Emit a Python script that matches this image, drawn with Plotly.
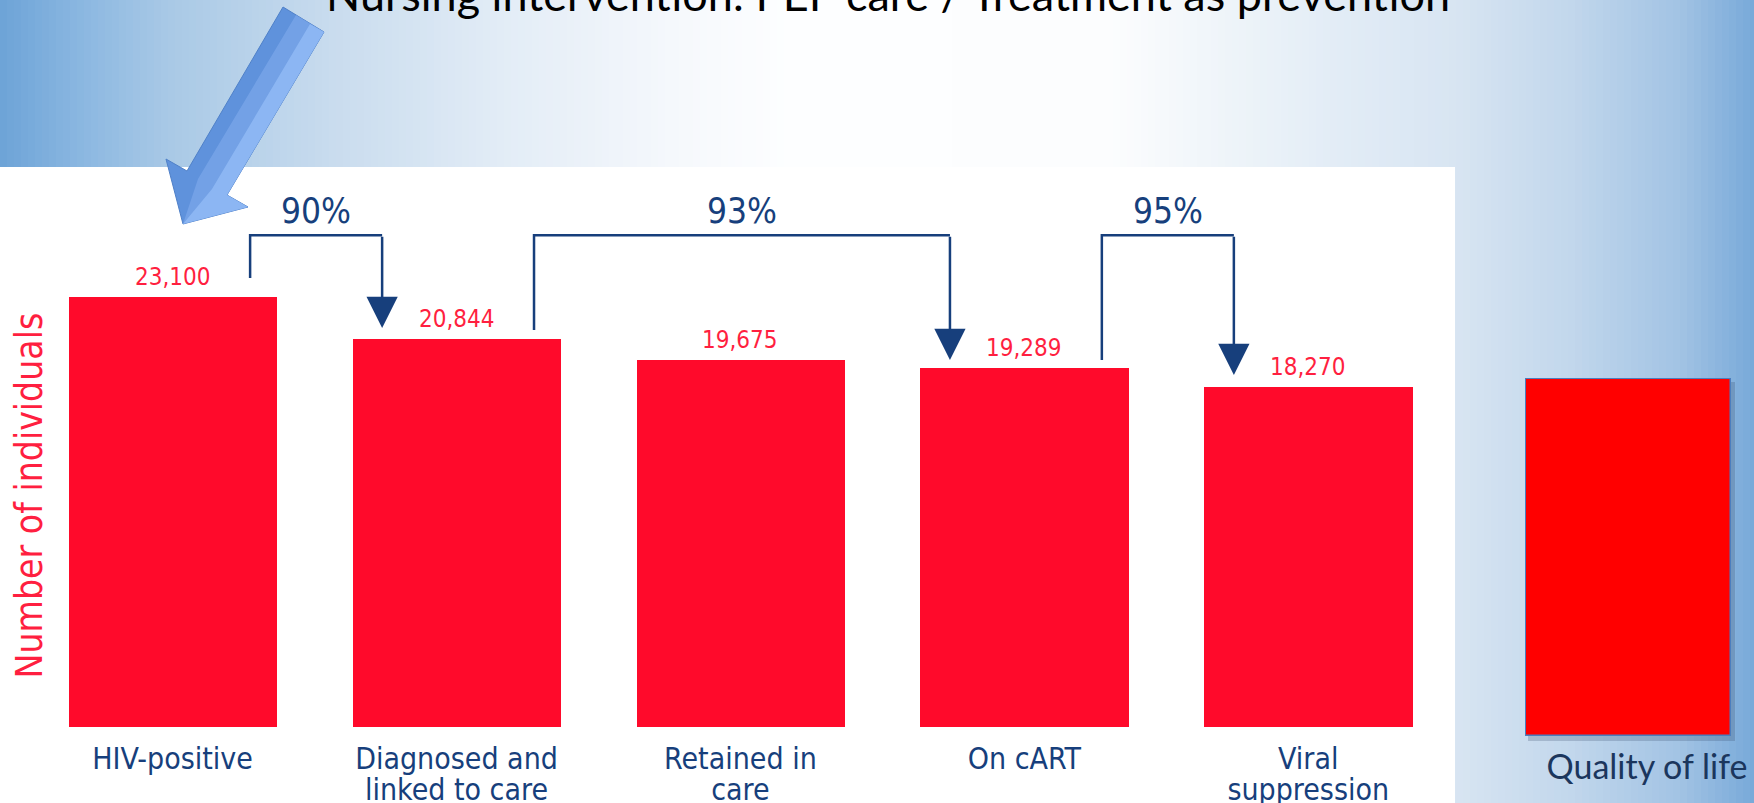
import plotly.graph_objects as go

W, H = 1754, 803

# ---------------- data ----------------
categories = ["HIV-positive", "Diagnosed and<br>linked to care", "Retained in<br>care",
              "On cART", "Viral<br>suppression"]
values = [23100, 20844, 19675, 19289, 18270]
bracket_from = [0, 1, 3]          # cascade step arrows: from bar index ...
bracket_to = [1, 3, 4]            # ... to bar index
qol_category = ["Quality of life"]
qol_value = [1]
title_text = "Nursing intervention: PEP care / Treatment as prevention"
y_title = "Number of individuals"

# ---------------- styles ----------------
RED = "#ff0a2b"
RED_TXT = "#ff1f40"
NAVY = "#173f7c"
COND = "DejaVu Sans Condensed, Liberation Sans Narrow, DejaVu Sans, sans-serif"
CAL = "Lato, Open Sans, sans-serif"

bracket_level = 26400
start_gap = [1000, 470, 410]
tip_gap = [580, 410, 620]
dx_left, dx_right = 0.273, -0.262


def px(x):
    return x / W


def py(y):
    return 1 - y / H


def hex2rgb(h):
    h = h.lstrip('#')
    return tuple(int(h[i:i + 2], 16) for i in (0, 2, 4))


grad = [(0, '#6da3d7'), (85, '#8cb8e1'), (170, '#a9c9e6'), (335, '#c9dcee'),
        (500, '#e2ecf6'), (670, '#f5f8fc'), (790, '#fdfeff'), (1110, '#fcfdfe'),
        (1230, '#eef4f9'), (1340, '#e2ecf6'), (1455, '#d8e5f2'), (1570, '#c2d7ec'),
        (1680, '#a2c3e4'), (1754, '#78a9d9')]


def color_at(x):
    for (xa, ca), (xb, cb) in zip(grad[:-1], grad[1:]):
        if xa <= x <= xb:
            t = (x - xa) / (xb - xa)
            a, b = hex2rgb(ca), hex2rgb(cb)
            return 'rgb(%d,%d,%d)' % tuple(round(a[i] + (b[i] - a[i]) * t) for i in range(3))
    return grad[-1][1]


def poly(pts):
    return 'M ' + ' L '.join('%.5f,%.5f' % (px(a), py(b)) for a, b in pts) + ' Z'


shapes = []
step = 7
for x0 in range(0, W, step):
    x1 = min(W, x0 + step)
    shapes.append(dict(type='rect', xref='paper', yref='paper', x0=px(x0), x1=min(1, px(x1) + 0.0006),
                       y0=0, y1=1, fillcolor=color_at((x0 + x1) / 2), line_width=0,
                       layer='below'))
# white chart panel
shapes.append(dict(type='rect', xref='paper', yref='paper', x0=0, x1=px(1455),
                   y0=0, y1=py(167), fillcolor='white', line_width=0, layer='below'))
# soft shadow behind the quality-of-life box
shapes.append(dict(type='rect', xref='paper', yref='paper', x0=px(1528), x1=px(1735),
                   y0=py(741), y1=py(382), fillcolor='rgba(40,60,90,0.22)', line_width=0,
                   layer='below'))
# big pointing arrow (decoration), banded to suggest its gradient
arrow_pts = [(283, 7), (324, 32), (227, 195), (248, 207), (183, 224), (166, 159), (187, 171)]
shapes.append(dict(type='path', xref='paper', yref='paper', path=poly(arrow_pts),
                   fillcolor='#5f92dc', line=dict(color='#4f80c8', width=1), layer='above'))
mid_pts = [(296, 15), (324, 32), (227, 195), (248, 207), (183, 224), (198, 179)]
shapes.append(dict(type='path', xref='paper', yref='paper', path=poly(mid_pts),
                   fillcolor='rgba(120,165,232,0.8)', line=dict(width=0), layer='above'))
light_pts = [(310, 24), (324, 32), (227, 195), (248, 207), (183, 224), (212, 189)]
shapes.append(dict(type='path', xref='paper', yref='paper', path=poly(light_pts),
                   fillcolor='rgba(145,186,245,0.85)', line=dict(width=0), layer='above'))

fig = go.Figure()

fig.add_trace(go.Bar(x=list(range(len(values))), y=values, width=0.734,
                     marker=dict(color=RED, line=dict(width=0)), showlegend=False,
                     hoverinfo='skip'))

annotations = []
# value labels
for i, v in enumerate(values):
    annotations.append(dict(x=i, y=v, xref='x', yref='y', text=f"{v:,}", showarrow=False,
                            yanchor='bottom', yshift=4,
                            font=dict(family=COND, size=24, color=RED_TXT)))

# brackets
for k, (a, b) in enumerate(zip(bracket_from, bracket_to)):
    xa = a + dx_left
    xb = b + dx_right
    fig.add_trace(go.Scatter(x=[xa, xa, xb], y=[values[a] + start_gap[k], bracket_level, bracket_level],
                             mode='lines', line=dict(color=NAVY, width=2.5),
                             showlegend=False, hoverinfo='skip'))
    annotations.append(dict(x=xb, y=values[b] + tip_gap[k], xref='x', yref='y',
                            ax=xb, ay=bracket_level, axref='x', ayref='y', text='',
                            showarrow=True, arrowhead=2, arrowsize=2.5, arrowwidth=2.5,
                            arrowcolor=NAVY, standoff=0))
    pct = round(100 * values[b] / values[a])
    annotations.append(dict(x=(xa + xb) / 2, y=bracket_level, xref='x', yref='y',
                            text=f"{pct}%", showarrow=False, yanchor='bottom', yshift=2,
                            font=dict(family=COND, size=35, color=NAVY)))

# y-axis title
annotations.append(dict(x=px(29), y=py(495.5), xref='paper', yref='paper', text=y_title,
                        textangle=-90, showarrow=False, xanchor='center', yanchor='middle',
                        font=dict(family=COND, size=37, color=RED_TXT)))
# slide title (cut off at the top, as on the slide)
annotations.append(dict(x=px(887.5), y=py(-6), xref='paper', yref='paper', text=title_text,
                        showarrow=False, xanchor='center', yanchor='middle',
                        font=dict(family=CAL, size=45, color='black')))

# quality of life bar
fig.add_trace(go.Bar(x=[0], y=qol_value, width=1, xaxis='x2', yaxis='y2',
                     marker=dict(color='#ff0000', line=dict(color='#4a7ebf', width=2.5)),
                     showlegend=False, hoverinfo='skip'))

first_lines = [c.split('<br>')[0] for c in categories]
second_lines = [c.split('<br>')[1] if '<br>' in c else '' for c in categories]
xdomain = [px(30.65), px(1450.2)]
tickfont = dict(family=COND, size=30, color=NAVY)

# empty trace so that the overlaid axis carrying the second label lines is drawn
fig.add_trace(go.Scatter(x=[], y=[], xaxis='x3', yaxis='y', showlegend=False,
                         hoverinfo='skip'))

fig.update_layout(
    width=W, height=H, margin=dict(l=0, r=0, t=0, b=0, autoexpand=False),
    paper_bgcolor='white', plot_bgcolor='rgba(0,0,0,0)',
    shapes=shapes, annotations=annotations, bargap=0,
    xaxis=dict(domain=xdomain, range=[-0.5, 4.5], automargin=False,
               tickvals=list(range(len(categories))), ticktext=first_lines,
               showgrid=False, zeroline=False, showline=False, ticks='',
               ticklabelstandoff=11, tickfont=tickfont),
    xaxis3=dict(domain=xdomain, range=[-0.5, 4.5], automargin=False, overlaying='x',
                anchor='y', side='bottom',
                tickvals=list(range(len(categories))), ticktext=second_lines,
                showgrid=False, zeroline=False, showline=False, ticks='',
                ticklabelstandoff=42, tickfont=tickfont),
    yaxis=dict(domain=[py(727), py(167)], range=[0, 560 / 0.018628], automargin=False,
               showgrid=False, zeroline=False, showline=False, showticklabels=False),
    xaxis2=dict(domain=[px(1525), px(1731)], range=[-0.5, 0.5], anchor='y2', automargin=False,
                tickvals=[0], ticktext=qol_category, showgrid=False, zeroline=False,
                showline=False, ticks='', ticklabelstandoff=8, ticklabelshift=19,
                tickfont=dict(family=CAL, size=34, color='#1b365d')),
    yaxis2=dict(domain=[py(736), py(378)], range=[0, 1], anchor='x2', automargin=False,
                showgrid=False, zeroline=False, showline=False, showticklabels=False),
)

fig.write_html("out.html", config={'displayModeBar': False},
               post_script="document.body.style.margin='0';document.body.style.overflow='hidden';")
